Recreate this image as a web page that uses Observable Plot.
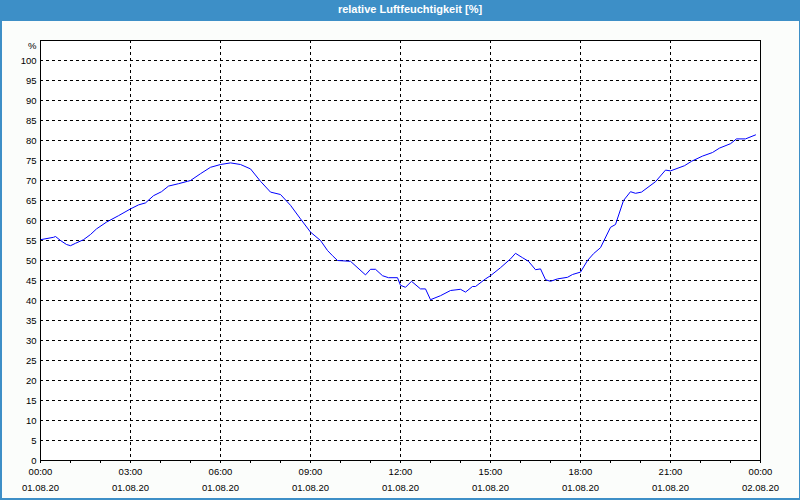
<!DOCTYPE html>
<html>
<head>
<meta charset="utf-8">
<script src="https://cdn.jsdelivr.net/npm/d3@7"></script>
<script src="https://cdn.jsdelivr.net/npm/@observablehq/plot@0.6"></script>
<style>
  html, body { margin: 0; padding: 0; background: #ffffff; }
  #wrap { position: relative; width: 800px; height: 500px; background: #fbfdfb; overflow: hidden; font-family: "Liberation Sans", Arial, sans-serif; }
  #title { position: absolute; left: 0; top: 0; width: 800px; height: 21px; background: #3d8fc7; color: #ffffff; font-weight: bold; font-size: 11px; line-height: 19px; text-align: center; box-sizing: border-box; padding-left: 20px; }
  #frame { position: absolute; left: 0; top: 21px; width: 800px; height: 479px; box-sizing: border-box; border-left: 2px solid #3d8fc7; border-right: 1px solid #3d8fc7; border-bottom: 2px solid #3d8fc7; pointer-events: none; }
  #chart { position: absolute; left: 0; top: 20px; }
  #chart svg { background: transparent; }
</style>
</head>
<body>
<div id="wrap">
  <div id="title">relative Luftfeuchtigkeit [%]</div>
  <div id="chart"></div>
  <div id="frame"></div>
</div>
<script>
const times = ["00:00","00:26","00:30","00:40","00:52","01:00","01:10","01:26","01:40","01:52","02:12","02:36","03:00","03:16","03:30","03:46","04:02","04:16","04:36","04:54","05:00","05:20","05:40","06:00","06:20","06:40","07:00","07:20","07:40","08:00","08:20","08:40","09:00","09:20","09:34","09:44","09:54","10:20","10:50","11:00","11:10","11:24","11:36","11:54","12:00","12:10","12:22","12:40","12:50","13:00","13:20","13:40","14:00","14:10","14:24","14:30","14:50","15:00","15:20","15:40","15:50","16:04","16:16","16:30","16:40","16:50","17:00","17:14","17:34","17:44","18:00","18:14","18:26","18:40","19:00","19:10","19:26","19:40","19:50","20:02","20:30","20:50","21:00","21:28","21:42","22:04","22:24","22:38","23:00","23:12","23:30","23:50"];
const humidity = [55.2,55.8,56.0,55.0,54.0,53.7,54.3,55.2,56.5,57.9,59.6,61.2,62.9,63.9,64.4,66.2,67.2,68.6,69.2,69.8,70.0,71.7,73.3,74.0,74.4,74.0,72.9,69.8,67.1,66.5,63.8,60.4,57.1,55.0,52.5,51.2,50.0,49.8,46.4,47.8,47.8,46.2,45.7,45.7,43.8,43.3,44.8,42.9,42.9,40.2,41.2,42.5,42.8,42.1,43.5,43.5,45.4,46.2,48.2,50.4,51.8,50.7,49.8,47.7,47.9,45.2,44.8,45.4,45.8,46.5,47.1,50.0,51.7,53.2,58.3,59.0,65.0,67.2,66.8,67.1,69.7,72.6,72.4,73.7,74.8,76.1,77.0,78.1,79.2,80.4,80.4,81.4];

const tickTimes = ["00:00","03:00","06:00","09:00","12:00","15:00","18:00","21:00","00:00"];
const tickDates = ["01.08.20","01.08.20","01.08.20","01.08.20","01.08.20","01.08.20","01.08.20","01.08.20","02.08.20"];
const yTicks = [0,5,10,15,20,25,30,35,40,45,50,55,60,65,70,75,80,85,90,95,100];
const yUnit = "%";

const toMin = s => { const [h, m] = s.split(":").map(Number); return h * 60 + m; };
const data = times.map((t, i) => ({minute: toMin(t), value: humidity[i]}));
const majorTicks = tickTimes.map((t, i) => i * 180);
const hourTicks = d3.range(0, 1441, 60);

const chart = Plot.plot({
  width: 800,
  height: 480,
  marginTop: 20,
  marginBottom: 40,
  marginLeft: 40,
  marginRight: 40,
  style: {fontFamily: "Liberation Sans, Arial, sans-serif", fontSize: "9.5px", color: "#000", background: "transparent"},
  x: {domain: [0, 1440]},
  y: {domain: [0, 105]},
  marks: [
    Plot.rect([0], {x1: 0, x2: 1440, y1: 0, y2: 105, fill: "#ffffff"}),
    Plot.gridY(yTicks.filter(v => v > 0), {stroke: "#000", strokeOpacity: 1, strokeDasharray: "3,3"}),
    Plot.gridX(majorTicks.slice(1, -1), {stroke: "#000", strokeOpacity: 1, strokeDasharray: "3,3"}),
    Plot.line(data, {x: "minute", y: "value", stroke: "#0000ff", strokeWidth: 1}),
    Plot.frame({stroke: "#000", strokeWidth: 1}),
    Plot.axisY(yTicks, {tickSize: 0, tickPadding: 4, label: null, fill: "#000"}),
    Plot.text([yUnit], {frameAnchor: "top-left", dx: -4, dy: 2, textAnchor: "end", fill: "#000"}),
    Plot.axisX(hourTicks, {tickSize: 3, tickFormat: () => "", label: null}),
    Plot.axisX(majorTicks, {tickSize: 0, tickPadding: 8, tickFormat: (d, i) => tickTimes[i], label: null, fill: "#000"}),
    Plot.axisX(majorTicks, {tickSize: 0, tickPadding: 24, tickFormat: (d, i) => tickDates[i], label: null, fill: "#000"})
  ]
});
document.getElementById("chart").appendChild(chart);
</script>
</body>
</html>
